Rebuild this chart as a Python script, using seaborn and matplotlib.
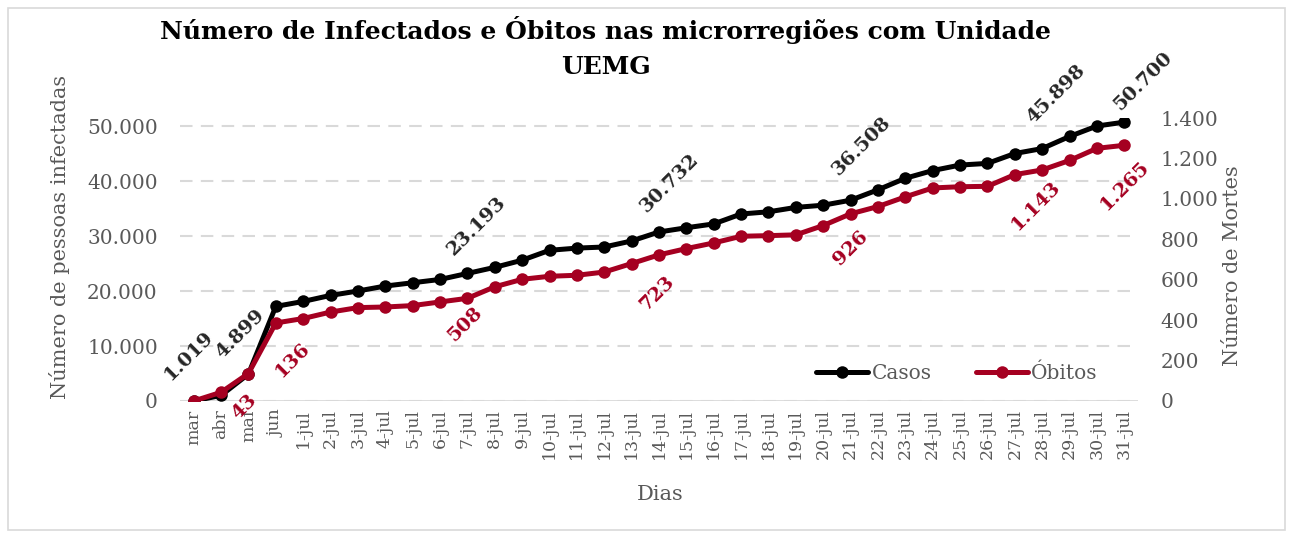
import matplotlib
matplotlib.use("Agg")
import numpy as np
import pandas as pd
import matplotlib.pyplot as plt
import seaborn as sns
from matplotlib.lines import Line2D
from matplotlib.patches import Rectangle

# dados
dias = ['mar', 'abr', 'mai', 'jun',
        '1-jul', '2-jul', '3-jul', '4-jul', '5-jul', '6-jul', '7-jul', '8-jul',
        '9-jul', '10-jul', '11-jul', '12-jul', '13-jul', '14-jul', '15-jul',
        '16-jul', '17-jul', '18-jul', '19-jul', '20-jul', '21-jul', '22-jul',
        '23-jul', '24-jul', '25-jul', '26-jul', '27-jul', '28-jul', '29-jul',
        '30-jul', '31-jul']

casos = [0, 1019, 4899, 17200, 18100, 19200, 20000, 20900, 21500, 22100,
         23193, 24300, 25600, 27400, 27800, 28000, 29100, 30732, 31500, 32200,
         34000, 34400, 35200, 35600, 36508, 38400, 40500, 41900, 42900, 43200,
         45000, 45898, 48100, 50000, 50700]

obitos = [0, 43, 136, 386, 408, 440, 462, 465, 472, 490,
          508, 565, 602, 617, 622, 638, 680, 723, 754, 782,
          815, 818, 822, 868, 926, 962, 1010, 1054, 1060, 1062,
          1120, 1143, 1190, 1250, 1265]

# pontos com rotulo
rot_casos = ['abr', 'mai', '7-jul', '14-jul', '21-jul', '28-jul', '31-jul']
rot_obitos = ['abr', 'mai', '7-jul', '14-jul', '21-jul', '28-jul', '31-jul']

# deslocamento dos rotulos (pixels)
desl_casos = [(-32, 40), (-8, 40), (9, 47), (10, 49), (11, 54), (14, 54), (19, 41)]
desl_obitos = [(23, -15), (44, 14), (-2, -26), (-2, -38), (0, -34), (-6, -36), (0, -40)]

PRETO = '#000000'
VERMELHO = '#A50021'
CINZA = '#595959'
GRADE = '#d9d9d9'


def fmt(v):
    return f'{v:,.0f}'.replace(',', '.')


sns.set_style('white')
plt.rcParams['font.family'] = ['DejaVu Serif']

df = pd.DataFrame({'dia': dias, 'pos': np.arange(len(dias)),
                   'Casos': casos, 'Óbitos': obitos})

fig = plt.figure(figsize=(12.92, 5.35), dpi=100)
ax = fig.add_axes([180 / 1292, 1 - 401 / 535, 958 / 1292, 283 / 535])
ax2 = ax.twinx()

sns.lineplot(data=df, x='pos', y='Casos', ax=ax, color=PRETO, linewidth=3.6,
             marker='o', markersize=9, markeredgewidth=0, legend=False)
sns.lineplot(data=df, x='pos', y='Óbitos', ax=ax2, color=VERMELHO, linewidth=3.6,
             marker='o', markersize=9, markeredgewidth=0, legend=False)

ax.set_xlim(-0.5, len(dias) - 0.5)
ax.set_ylim(0, 51455)
ax2.set_ylim(0, 1400)

ax.set_yticks(range(0, 50001, 10000))
ax.set_yticklabels([fmt(v) for v in range(0, 50001, 10000)])
ax2.set_yticks(range(0, 1401, 200))
ax2.set_yticklabels([fmt(v) for v in range(0, 1401, 200)])
ax.set_xticks(df['pos'])
ax.set_xticklabels(dias, rotation=90)

ax.yaxis.grid(True, color=GRADE, linestyle=(0, (6, 4)), linewidth=1.5)
ax.xaxis.grid(False)
ax.axhline(0, color=GRADE, linewidth=2, zorder=1)
ax.set_axisbelow(True)

for a in (ax, ax2):
    for s in a.spines.values():
        s.set_visible(False)
    a.set_xlabel('')
    a.set_ylabel('')
ax.tick_params(axis='y', length=0, labelsize=14.5, labelcolor=CINZA, pad=16)
ax2.tick_params(axis='y', length=0, labelsize=14.5, labelcolor=CINZA, pad=16)
ax.tick_params(axis='x', length=0, labelsize=12.5, labelcolor=CINZA, pad=6)

# rotulos de dados
for d, (dx, dy) in zip(rot_casos, desl_casos):
    i = dias.index(d)
    ax.annotate(fmt(casos[i]), (i, casos[i]), xytext=(dx * 0.72, dy * 0.72),
                textcoords='offset points', rotation=45, ha='center', va='center',
                fontsize=14, fontweight='bold', color='#262626')
for d, (dx, dy) in zip(rot_obitos, desl_obitos):
    i = dias.index(d)
    ax2.annotate(fmt(obitos[i]), (i, obitos[i]), xytext=(dx * 0.72, dy * 0.72),
                 textcoords='offset points', rotation=45, ha='center', va='center',
                 fontsize=14, fontweight='bold', color=VERMELHO)

# legenda
handles = [Line2D([], [], color=PRETO, lw=3.6, marker='o', markersize=9, markeredgewidth=0),
           Line2D([], [], color=VERMELHO, lw=3.6, marker='o', markersize=9, markeredgewidth=0)]
ax2.legend(handles, ['Casos', 'Óbitos'], ncol=2, frameon=False, loc='center left',
           bbox_to_anchor=(0.645, 0.099), fontsize=14.5, labelcolor=CINZA,
           handlelength=2.6, handletextpad=0.15, columnspacing=2.2)

# titulos
fig.text(606 / 1292, 1 - 16 / 535,
         'Número de Infectados e Óbitos nas microrregiões com Unidade\nUEMG',
         ha='center', va='top', fontsize=18, fontweight='bold', color='#000000',
         linespacing=1.6)
fig.text(60 / 1292, 1 - 237 / 535, 'Número de pessoas infectadas', rotation=90,
         ha='center', va='center', fontsize=15, color=CINZA)
fig.text(1233 / 1292, 1 - 266 / 535, 'Número de Mortes', rotation=90,
         ha='center', va='center', fontsize=15, color=CINZA)
fig.text(660 / 1292, 1 - 495 / 535, 'Dias', ha='center', va='center',
         fontsize=15, color=CINZA)

fig.patches.append(Rectangle((8 / 1292, 5 / 535), 1277 / 1292, 522 / 535,
                             transform=fig.transFigure, fill=False,
                             edgecolor=GRADE, linewidth=1.2))

fig.savefig('out.png', dpi=100)
